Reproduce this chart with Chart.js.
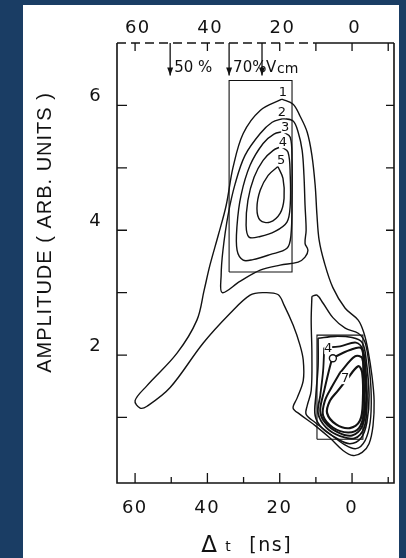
<!DOCTYPE html>
<html>
<head>
<meta charset="utf-8">
<script src="https://cdn.jsdelivr.net/npm/chart.js@4"></script>
<style>
  html, body { margin: 0; padding: 0; background: #1a3d64; }
  #sheet { position: absolute; left: 23px; top: 5px; width: 376px; height: 553px; background: #fff; }
  canvas { display: block; }
</style>
</head>
<body>
<div id="sheet"><canvas id="chart" width="376" height="553"></canvas></div>
<script>
// contour lines, as [delta t (ns), amplitude]
const contour1 = [[19.4,6.10],[16.3,6.02],[14.4,5.83],[12.4,5.57],[11.1,5.20],[10.2,4.72],[9.7,4.24],[9.1,3.84],[7.7,3.49],[5.3,3.08],[1.9,2.75],[-1.7,2.56],[-3.3,2.35],[-4.4,2.08],[-5.5,1.67],[-6.1,1.27],[-5.8,0.87],[-4.7,0.58],[-2.8,0.44],[-0.3,0.39],[2.5,0.47],[6.1,0.67],[10.2,0.87],[14.4,1.05],[16.3,1.15],[15.2,1.31],[13.5,1.59],[13.5,1.92],[14.4,2.16],[16.3,2.48],[18.8,2.80],[20.5,2.97],[24.6,3.00],[28.2,2.96],[33.7,2.67],[41.2,2.19],[50.3,1.48],[56.7,1.18],[58.6,1.15],[60.0,1.27],[56.7,1.51],[48.4,2.03],[42.9,2.56],[40.9,3.04],[39.3,3.44],[37.0,3.92],[34.8,4.40],[32.9,5.01],[30.1,5.55],[25.4,5.92]];
const contour2 = [[19.1,5.79],[16.3,5.75],[14.9,5.57],[13.8,5.28],[13.3,4.88],[13.0,4.40],[12.7,4.00],[13.0,3.79],[12.2,3.68],[13.0,3.57],[14.9,3.49],[19.9,3.44],[25.4,3.36],[31.0,3.18],[35.9,3.00],[36.2,3.28],[35.7,3.68],[34.3,4.24],[32.3,4.75],[29.6,5.20],[25.4,5.55],[22.1,5.73]];
const contour3 = [[19.1,5.58],[17.1,5.49],[16.6,5.12],[16.6,4.48],[16.9,3.92],[18.0,3.71],[22.7,3.61],[27.4,3.53],[30.1,3.52],[31.8,3.68],[31.8,4.08],[30.7,4.56],[28.2,5.04],[24.6,5.39],[21.6,5.54]];
const contour4 = [[19.6,5.34],[17.7,5.25],[17.1,4.88],[17.1,4.40],[18.0,4.13],[21.3,3.98],[25.4,3.90],[28.5,3.89],[29.3,4.08],[28.8,4.48],[27.1,4.85],[24.6,5.12],[21.8,5.28]];
const contour5 = [[20.5,5.02],[19.1,4.83],[18.8,4.51],[19.9,4.27],[22.7,4.13],[25.4,4.16],[26.3,4.35],[25.4,4.64],[23.2,4.88]];
const lower2 = [[11.1,2.94],[9.7,2.96],[8.0,2.83],[5.3,2.60],[1.9,2.43],[-1.7,2.35],[-3.6,2.20],[-4.7,1.83],[-5.3,1.35],[-5.0,0.92],[-3.6,0.63],[-1.1,0.50],[2.2,0.57],[6.6,0.76],[10.2,0.92],[12.7,1.05],[12.4,1.19],[11.3,1.43],[11.1,2.00],[11.3,2.56]];
const lower3 = [[9.4,2.27],[4.7,2.30],[0.0,2.28],[-2.8,2.20],[-3.9,1.92],[-4.7,1.35],[-4.1,0.92],[-2.5,0.67],[0.6,0.58],[4.4,0.67],[8.3,0.83],[10.2,1.03],[10.0,1.35],[9.4,1.83]];
const lower4 = [[7.7,2.12],[3.3,2.14],[-1.1,2.20],[-3.0,2.08],[-3.9,1.67],[-4.1,1.19],[-3.3,0.83],[-0.8,0.67],[3.3,0.70],[7.2,0.84],[9.4,1.07],[8.8,1.35],[8.0,1.75]];
const lower5 = [[5.5,1.95],[0.6,2.08],[-2.5,2.11],[-3.3,1.83],[-3.9,1.27],[-2.8,0.86],[0.0,0.71],[3.9,0.76],[7.5,0.92],[8.8,1.11],[7.7,1.43],[6.4,1.75]];
const lower6 = [[3.3,1.72],[-0.8,1.98],[-2.8,1.95],[-3.3,1.51],[-3.3,1.08],[-1.9,0.83],[1.1,0.76],[5.3,0.84],[8.0,1.03],[7.5,1.27],[5.5,1.50]];
const lower7 = [[1.7,1.59],[-1.7,1.82],[-2.8,1.72],[-3.0,1.27],[-2.2,0.95],[0.6,0.83],[4.4,0.89],[6.9,1.07],[6.1,1.27],[3.9,1.43]];

// gating windows [t from, t to, amp from, amp to]
const upperBox = [34.0, 16.6, 3.33, 6.40];
const lowerBox = [9.7, -3.0, 0.65, 2.32];

// velocity markers on the top axis
const markerT = [50.3, 34.0, 24.9];
const markerText = ['50 %', '70%', 'V'];
const markerTip = 6.48;

// contour numbers [t, amp, text]
const levelLabels = [[19.1,6.21,'1'],[19.4,5.89,'2'],[18.5,5.65,'3'],[19.1,5.41,'4'],[19.6,5.12,'5'],[6.6,2.11,'4'],[1.9,1.63,'7']];
const levelRing = [5.3, 1.95];

// axes
const xMajor = [60, 40, 20, 0];
const xMinor = [50, 30, 10, -10];
const xTop = [60, 40, 20, 10, 0, -10];
const yTicks = [1, 2, 3, 4, 5, 6];
const yLabels = [2, 4, 6];
const dashEnd = 10;

const ink = '#121212';

function closed(pts) {
  const out = pts.map(p => ({ x: p[0], y: p[1] }));
  out.push(out[0]);
  return out;
}
function rect(b) {
  return [[b[0], b[2]], [b[1], b[2]], [b[1], b[3]], [b[0], b[3]]];
}

const lines = [
  { data: contour1, w: 1.4 }, { data: contour2, w: 1.4 }, { data: contour3, w: 1.4 },
  { data: contour4, w: 1.4 }, { data: contour5, w: 1.4 },
  { data: lower2, w: 1.4 }, { data: lower3, w: 1.6 }, { data: lower4, w: 1.8 },
  { data: lower5, w: 2 }, { data: lower6, w: 2 }, { data: lower7, w: 2.2 }
];

const datasets = lines.map(l => ({
  data: closed(l.data),
  showLine: true,
  borderColor: ink,
  borderWidth: l.w,
  pointRadius: 0,
  tension: 0.35,
  fill: false
}));
[upperBox, lowerBox].forEach(b => datasets.push({
  data: closed(rect(b)),
  showLine: true,
  borderColor: ink,
  borderWidth: 1.1,
  pointRadius: 0,
  tension: 0
}));

function spacedText(ctx, txt, x, y, spacing) {
  ctx.letterSpacing = spacing + 'px';
  ctx.fillText(txt, x + spacing / 2, y);
  ctx.letterSpacing = '0px';
}

const frame = {
  id: 'frame',
  afterDatasetsDraw(chart) {
    const { ctx, chartArea: a, scales: { x, y } } = chart;
    ctx.save();
    ctx.strokeStyle = ink;
    ctx.fillStyle = ink;
    ctx.lineWidth = 1.6;

    // frame
    ctx.beginPath();
    ctx.moveTo(a.left, a.top);
    ctx.lineTo(a.left, a.bottom);
    ctx.lineTo(a.right, a.bottom);
    ctx.lineTo(a.right, a.top);
    ctx.stroke();
    const xd = x.getPixelForValue(dashEnd);
    ctx.setLineDash([9, 5]);
    ctx.beginPath(); ctx.moveTo(a.left, a.top); ctx.lineTo(xd, a.top); ctx.stroke();
    ctx.setLineDash([]);
    ctx.beginPath(); ctx.moveTo(xd, a.top); ctx.lineTo(a.right, a.top); ctx.stroke();

    // ticks, all pointing inwards
    ctx.lineWidth = 1.3;
    ctx.beginPath();
    xMajor.forEach(v => { const p = x.getPixelForValue(v); ctx.moveTo(p, a.bottom); ctx.lineTo(p, a.bottom - 10); });
    xMinor.forEach(v => { const p = x.getPixelForValue(v); ctx.moveTo(p, a.bottom); ctx.lineTo(p, a.bottom - 6); });
    xTop.forEach(v => { const p = x.getPixelForValue(v); ctx.moveTo(p, a.top); ctx.lineTo(p, a.top + 8); });
    yTicks.forEach(v => {
      const p = y.getPixelForValue(v);
      ctx.moveTo(a.left, p); ctx.lineTo(a.left + 10, p);
      ctx.moveTo(a.right, p); ctx.lineTo(a.right - 8, p);
    });
    ctx.stroke();

    // tick labels
    ctx.font = '18px "DejaVu Sans"';
    ctx.textAlign = 'center';
    ctx.textBaseline = 'middle';
    xMajor.forEach(v => {
      const p = x.getPixelForValue(v);
      spacedText(ctx, String(v), p - 1, a.bottom + 25, 1.5);
      spacedText(ctx, String(v), p + 2, a.top - 15, 1.5);
    });
    yLabels.forEach(v => spacedText(ctx, String(v), a.left - 22, y.getPixelForValue(v) - 9, 0));

    // axis titles
    ctx.save();
    ctx.translate(22, (a.top + a.bottom) / 2 - 30);
    ctx.rotate(-Math.PI / 2);
    ctx.font = '20px "Liberation Sans"';
    spacedText(ctx, 'AMPLITUDE ( ARB. UNITS )', 0, 0, 1);
    ctx.restore();
    ctx.textBaseline = 'alphabetic';
    ctx.font = '23px "DejaVu Sans"';
    ctx.fillText('Δ', 186, 547);
    ctx.font = '14px "DejaVu Sans"';
    ctx.fillText('t', 205, 546);
    ctx.font = '19px "DejaVu Sans"';
    spacedText(ctx, '[ns]', 247, 546, 1.5);

    // velocity markers
    const tip = y.getPixelForValue(markerTip);
    ctx.lineWidth = 1.3;
    markerT.forEach((v, i) => {
      const p = x.getPixelForValue(v);
      ctx.beginPath(); ctx.moveTo(p, a.top); ctx.lineTo(p, tip); ctx.stroke();
      ctx.beginPath(); ctx.moveTo(p - 3, tip - 8); ctx.lineTo(p + 3, tip - 8); ctx.lineTo(p, tip); ctx.closePath(); ctx.fill();
      ctx.textAlign = 'left';
      ctx.font = '15px "DejaVu Sans"';
      ctx.fillText(markerText[i], p + 4, a.top + 29);
      if (markerText[i] === 'V') {
        ctx.font = '14px "DejaVu Sans"';
        ctx.fillText('cm', p + 15, a.top + 30);
      }
    });

    // contour numbers
    ctx.font = '13px "DejaVu Sans"';
    ctx.textAlign = 'center';
    ctx.textBaseline = 'middle';
    levelLabels.forEach(l => {
      const px = x.getPixelForValue(l[0]), py = y.getPixelForValue(l[1]);
      ctx.fillStyle = '#fff';
      ctx.fillRect(px - 4, py - 6, 8, 12);
      ctx.fillStyle = ink;
      ctx.fillText(l[2], px, py);
    });
    const rx = x.getPixelForValue(levelRing[0]), ry = y.getPixelForValue(levelRing[1]);
    ctx.beginPath(); ctx.arc(rx, ry, 3.5, 0, Math.PI * 2);
    ctx.fillStyle = '#fff'; ctx.fill(); ctx.lineWidth = 1.4; ctx.stroke();
    ctx.restore();
  }
};

new Chart(document.getElementById('chart'), {
  type: 'scatter',
  data: { datasets: datasets },
  options: {
    responsive: false,
    devicePixelRatio: 1,
    animation: false,
    layout: { padding: { left: 94, right: 5, top: 38, bottom: 75 } },
    plugins: { legend: { display: false }, tooltip: { enabled: false } },
    scales: {
      x: { type: 'linear', reverse: true, min: -11.6, max: 65, display: false },
      y: { type: 'linear', min: -0.05, max: 7, display: false }
    }
  },
  plugins: [frame]
});
</script>
</body>
</html>
